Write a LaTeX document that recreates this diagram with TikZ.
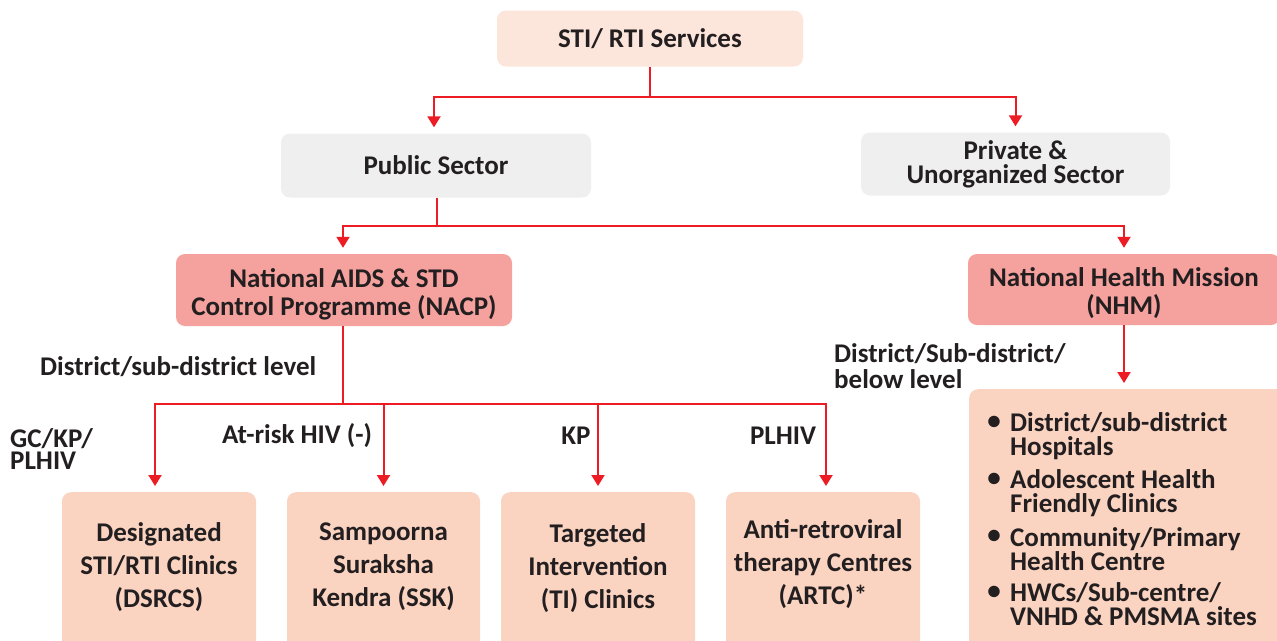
\documentclass[tikz,border=0pt]{standalone}
\usepackage{fontspec}
\setmainfont{Carlito}
\usetikzlibrary{arrows.meta}
\definecolor{red1}{HTML}{ED1C24}
\definecolor{ink}{HTML}{231F20}
\definecolor{cTop}{HTML}{FCE5DA}
\definecolor{cGray}{HTML}{EEEFEE}
\definecolor{cSal}{HTML}{F5A19E}
\definecolor{cPeach}{HTML}{FAD3C1}
\begin{document}
\begin{tikzpicture}[x=1pt,y=-1pt,
  every node/.style={font=\fontsize{27}{33}\selectfont\bfseries, text=ink, inner sep=0pt},
  box/.style={rounded corners=9pt, align=center, text depth=0pt},
  ln/.style={draw=red1, line width=2pt},
  arr/.style={ln, -{Triangle[width=13pt,length=11pt]}, shorten >=6pt},
  lbl/.style={align=left},
  btxt/.style={align=center, font=\fontsize{27}{33}\selectfont\bfseries},
  ttxt/.style={align=center, font=\fontsize{27}{28}\selectfont\bfseries},
  itm/.style={anchor=west, align=left, font=\fontsize{27}{24}\selectfont\bfseries}]
\clip (0,0) rectangle (1277,640);
\fill[white] (0,0) rectangle (1277,640);
% boxes
\node[box, fill=cTop, minimum width=306pt, minimum height=56pt] (top) at (650,38.5) {STI/ RTI Services};
\node[box, fill=cGray, minimum width=310pt, minimum height=64pt] (pub) at (436,165.5) {Public Sector};
\node[box, fill=cGray, minimum width=309pt, minimum height=63pt] (priv) at (1015.5,164) {};
\node[ttxt, font=\fontsize{27}{24}\selectfont\bfseries] (privT) at (1015.5,164.5) {Private \&\\Unorganized Sector};
\node[box, fill=cSal, minimum width=336pt, minimum height=72pt] (nacp) at (344,290) {};
\node[ttxt] (nacpT) at (344,294) {National AIDS \& STD\\Control Programme (NACP)};
\node[box, fill=cSal, minimum width=312pt, minimum height=71pt] (nhm) at (1124,289.5) {};
\node[ttxt] (nhmT) at (1124,293.5) {National Health Mission\\(NHM)};
% bottom boxes
\node[box, fill=cPeach, anchor=north, minimum width=194pt, minimum height=170pt] (dsrcs) at (159,492) {};
\node[box, fill=cPeach, anchor=north, minimum width=193pt, minimum height=170pt] (ssk) at (383.5,492) {};
\node[box, fill=cPeach, anchor=north, minimum width=194pt, minimum height=170pt] (ti) at (598,492) {};
\node[box, fill=cPeach, anchor=north, minimum width=194pt, minimum height=170pt] (artc) at (823,492) {};
\node[btxt] (dsrcsT) at (159,567) {Designated\\STI/RTI Clinics\\(DSRCS)};
\node[btxt] (sskT) at (383.5,567) {Sampoorna\\Suraksha\\Kendra (SSK)};
\node[btxt] (tiT) at (598,568) {Targeted\\Intervention\\(TI) Clinics};
\node[btxt] (artcT) at (823,564.5) {Anti-retroviral\\therapy Centres\\(ARTC)*};
% list box
\node[box, fill=cPeach, anchor=north west, minimum width=320pt, minimum height=280pt] (list) at (969,389) {};
\node (b1) at (994,423) {•};
\node[itm] (i1) at (1010,436.5) {District/sub-district\\Hospitals};
\node (b2) at (994,480) {•};
\node[itm] (i2) at (1010,493.5) {Adolescent Health\\Friendly Clinics};
\node (b3) at (994,537) {•};
\node[itm] (i3) at (1010,549) {Community/Primary\\Health Centre};
\node (b4) at (994,593) {•};
\node[itm] (i4) at (1010,604.5) {HWCs/Sub-centre/\\VNHD \& PMSMA sites};
% labels
\node[lbl, anchor=west] (l1) at (40,367) {District/sub-district level};
\node[lbl, anchor=west, font=\fontsize{27}{22}\selectfont\bfseries] (l2) at (10,449) {GC/KP/\\PLHIV};
\node (l3) at (297,436) {At-risk HIV (-)};
\node (l4) at (576,436) {KP};
\node (l5) at (783,436) {PLHIV};
\node[lbl, anchor=west, font=\fontsize{27}{26}\selectfont\bfseries] (l6) at (834,366) {District/Sub-district/\\below level};
% connectors
\coordinate (j1) at (650,97);
\draw[ln] (top.south) -- (j1);
\draw[arr] (j1) -| ([xshift=-2pt]pub.north);
\draw[arr] (j1) -| (priv.north);
\coordinate (j2) at (437,226);
\draw[ln] (pub.south -| j2) -- (j2);
\draw[arr] (j2) -| ([xshift=-1pt]nacp.north);
\draw[arr] (j2) -| (nhm.north);
\coordinate (j3) at (343,404);
\draw[ln] (nacp.south -| j3) -- (j3);
\draw[arr] (j3) -| ([xshift=-4pt]dsrcs.north);
\draw[arr] (j3) -| (ssk.north);
\draw[arr] (j3) -| (ti.north);
\draw[arr] (j3) -| ([xshift=3pt]artc.north);
\draw[arr] (nhm.south) -- (nhm.south |- list.north);
\end{tikzpicture}
\end{document}
